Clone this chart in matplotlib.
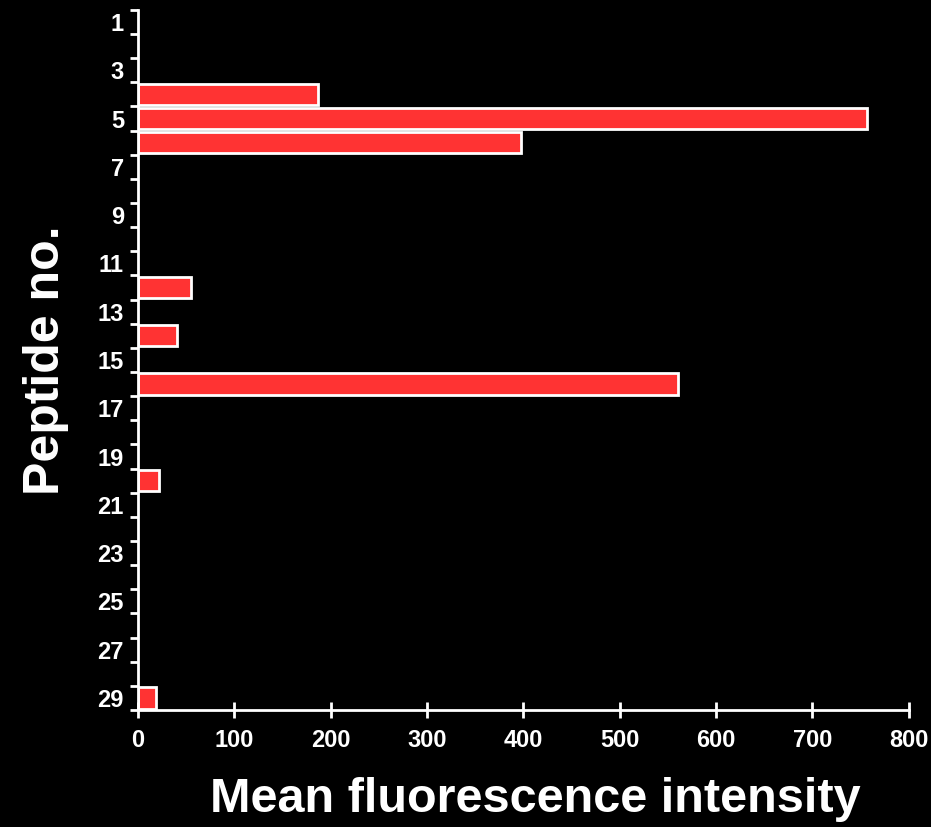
import matplotlib

matplotlib.use("Agg")
import matplotlib.pyplot as plt

peptides = [4, 5, 6, 12, 14, 16, 20, 29]
mfi = [187, 757, 398, 55, 41, 561, 22, 19]
label_peptides = list(range(1, 30, 2))
x_ticks = [0, 100, 200, 300, 400, 500, 600, 700, 800]

plt.rcParams["font.family"] = ["Liberation Sans", "DejaVu Sans"]
plt.rcParams["font.weight"] = "bold"

fig = plt.figure(figsize=(9.31, 8.27), dpi=100, facecolor="black")
ax = fig.add_axes([0.148, 0.1415, 0.828, 0.8465], facecolor="black")

ax.barh(peptides, mfi, height=0.88, color="#ff3333", edgecolor="white", linewidth=2)

ax.set_xlim(0, 800)
ax.set_ylim(29.5, 0.5)
for side in ("top", "right"):
    ax.spines[side].set_visible(False)
for side in ("left", "bottom"):
    ax.spines[side].set_color("white")
    ax.spines[side].set_linewidth(2)

ax.set_yticks(label_peptides)
ax.set_yticks([p + 0.5 for p in range(0, 30)], minor=True)
ax.tick_params(axis="y", which="major", length=0, pad=10, colors="white", labelsize=17)
ax.tick_params(axis="y", which="minor", length=6, width=2, color="white", direction="out")
ax.set_xticks(x_ticks)
ax.tick_params(axis="x", which="major", length=12, width=2, direction="inout",
               colors="white", labelsize=17, pad=8)

fig.text(0.049, 0.565, "Peptide no.", color="white", fontsize=36, fontweight="bold",
         rotation=90, ha="center", va="center")
fig.text(0.575, 0.033, "Mean fluorescence intensity", color="white", fontsize=35,
         fontweight="bold", ha="center", va="center")

fig.savefig("out.png", dpi=100, facecolor="black")
